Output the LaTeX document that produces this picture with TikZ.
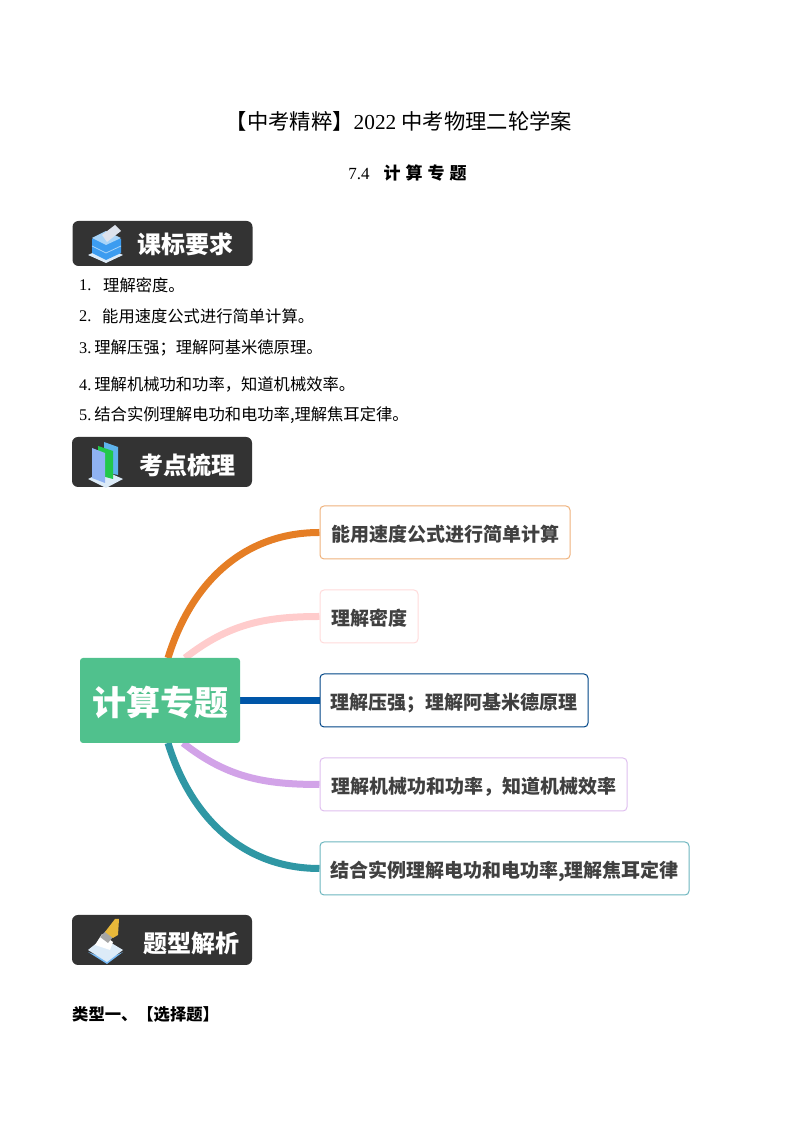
\documentclass[tikz,border=0pt]{standalone}
\usepackage{fontspec}
\setmainfont{Liberation Serif}
\newfontfamily\cjk{Noto Sans CJK SC}
\usetikzlibrary{backgrounds}
\definecolor{badgegray}{HTML}{333333}
\definecolor{boxtext}{HTML}{404040}
\definecolor{rootgreen}{HTML}{50C18D}
\definecolor{branchorange}{HTML}{E57E25}
\definecolor{branchpink}{HTML}{FFCCCC}
\definecolor{branchblue}{HTML}{0056A8}
\definecolor{branchpurple}{HTML}{D2A3E8}
\definecolor{branchteal}{HTML}{2F97A4}
\definecolor{iconpale}{HTML}{DCEBF8}
\definecolor{iconsky}{HTML}{3C9CF0}
\definecolor{iconlight}{HTML}{A8D4F8}
\definecolor{iconsheet}{HTML}{DDE2EC}
\definecolor{iconpanel}{HTML}{8FB2F2}
\definecolor{iconback}{HTML}{5FB4EC}
\definecolor{icongreen}{HTML}{22C84A}
\definecolor{iconbrush}{HTML}{E8B83A}
\tikzset{
	badge/.style={fill=badgegray, rounded corners=6pt, minimum width=180pt, inner sep=0pt},
	badgetext/.style={anchor=west, text=white, inner sep=0pt, font=\cjk\bfseries\fontsize{24}{24}\selectfont},
	bodytext/.style={anchor=west, inner sep=0pt, font=\fontsize{16.3}{18}\selectfont},
	topicbox/.style={draw, fill=white, line width=1pt, rounded corners=4pt, minimum height=53pt, inner sep=0pt, text=boxtext, text height=21pt, text depth=3pt, font=\cjk\bfseries\fontsize{19}{22}\selectfont},
	branch/.style={line width=7pt}
}
\begin{document}
\begin{tikzpicture}[x=1pt, y=1pt]
		\useasboundingbox (0,0) rectangle (794,1123);
		% titles
		\node (title) at (399,1002) {\fontsize{21.3}{24}\selectfont{\cjk 【中考精粹】}2022 {\cjk 中考物理二轮学案}};
		\node (subtitle) at (407.5,950) {\fontsize{17}{20}\selectfont 7.4\hspace{14pt}{\cjk\bfseries 计\hspace{5pt}算\hspace{5pt}专\hspace{5pt}题}};
		% first badge
		\node[badge, minimum height=45pt] (badgeone) at (162.5,879.5) {};
		\node[badgetext] (badgeonetext) at (137,879) {课标要求};
		\fill[iconpale] (88,868) -- (106,860) -- (123,868) -- (106,876) -- cycle;
		\fill[iconsky] (92,870) -- (106,863) -- (121,870) -- (121,884) -- (106,891) -- (92,884) -- cycle;
		\draw[iconlight, line width=0.8pt] (92,877) -- (106,870) -- (121,877);
		\fill[iconlight] (92,885) -- (106,878) -- (121,885) -- (106,892) -- cycle;
		\fill[iconsheet] (102,888) -- (115,898) -- (121,892) -- (107,881) -- cycle;
		% body lines
		\node[bodytext] (numone) at (79,838) {1.};
		\node[bodytext] (lineone) at (103,838) {\cjk 理解密度。};
		\node[bodytext] (numtwo) at (79,807) {2.};
		\node[bodytext] (linetwo) at (102,807) {\cjk 能用速度公式进行简单计算。};
		\node[bodytext] (linethree) at (79,775) {3.\hspace{3pt}{\cjk 理解压强；理解阿基米德原理。}};
		\node[bodytext] (linefour) at (79,739) {4.\hspace{3pt}{\cjk 理解机械功和功率，知道机械效率。}};
		\node[bodytext] (linefive) at (79,708) {5.\hspace{3pt}{\cjk 结合实例理解电功和电功率,理解焦耳定律。}};
		% second badge
		\node[badge, minimum height=50pt] (badgetwo) at (162,661) {};
		\node[badgetext] (badgetwotext) at (139,658) {考点梳理};
		\fill[iconpale] (88,644) -- (105,652) -- (123,644) -- (106,635) -- cycle;
		\fill[iconback] (104,681) -- (118,676) -- (118,648) -- (104,651) -- cycle;
		\fill[icongreen] (98,677) -- (113,672) -- (113,644) -- (98,648) -- cycle;
		\fill[iconpanel] (92,675) -- (105,670) -- (105,640) -- (92,645) -- cycle;
		% mind map
		\node[fill=rootgreen, rounded corners=3pt, minimum width=160pt, minimum height=85pt, inner sep=0pt, text=white, text height=34pt, text depth=4pt, font=\cjk\bfseries\fontsize{34}{38}\selectfont] (root) at (160,422.5) {计算专题};
		\node[topicbox, draw=branchorange!60, minimum width=250pt] (boxspeed) at (445,590.5) {能用速度公式进行简单计算};
		\node[topicbox, draw=branchpink!70, minimum width=98pt] (boxdensity) at (369,506.5) {理解密度};
		\node[topicbox, draw=branchblue!80!black, minimum width=268pt] (boxpressure) at (454,422.5) {理解压强；理解阿基米德原理};
		\node[topicbox, draw=branchpurple!70, minimum width=307pt] (boxwork) at (473.5,338.5) {理解机械功和功率，知道机械效率};
		\node[topicbox, draw=branchteal!70, minimum width=369pt] (boxpower) at (504.5,254.5) {结合实例理解电功和电功率,理解焦耳定律};
		\coordinate (rootorange) at (168,465);
		\coordinate (rootpink) at (185,465);
		\coordinate (rootpurple) at (183,380);
		\coordinate (rootteal) at (168,380);
		\begin{scope}[on background layer]
			\draw[branch, branchorange] (rootorange) to[out=73, in=180] (boxspeed.west);
			\draw[branch, branchpink] (rootpink) to[out=38, in=180] (boxdensity.west);
			\draw[branch, branchblue] (root.east) -- (boxpressure.west);
			\draw[branch, branchpurple] (rootpurple) to[out=-38, in=180] (boxwork.west);
			\draw[branch, branchteal] (rootteal) to[out=-73, in=180] (boxpower.west);
		\end{scope}
		% third badge
		\node[badge, minimum height=50pt] (badgethree) at (162,183) {};
		\node[badgetext] (badgethreetext) at (143,180) {题型解析};
		\fill[iconsky!70] (88,171) -- (107,159) -- (123,171) -- (107,164) -- cycle;
		\fill[iconpale] (88,173) -- (103,185) -- (123,173) -- (107,161) -- cycle;
		\fill[white] (95,178) -- (102,189) -- (113,181) -- (110,173) -- cycle;
		\fill[gray!70] (100,186) -- (106,192) -- (113,186) -- (108,180) -- cycle;
		\fill[iconbrush] (105,191) -- (115,204) -- (119,204) -- (118,188) -- (113,185) -- cycle;
		% last line
		\node[bodytext, font=\cjk\bfseries\fontsize{16.3}{18}\selectfont] (typeone) at (72,109) {类型一、【选择题】};
	\end{tikzpicture}
\end{document}
